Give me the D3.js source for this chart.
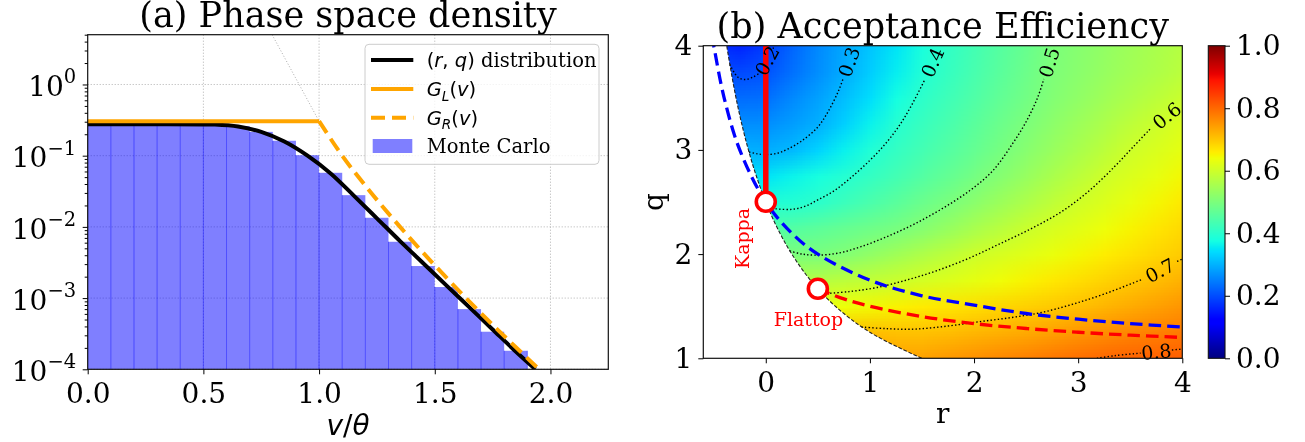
<!DOCTYPE html>
<html><head><meta charset="utf-8">
<script src="https://cdn.jsdelivr.net/npm/d3@7"></script>
<style>
html,body{margin:0;padding:0;background:#fff;}
#wrap{position:relative;width:1305px;height:442px;overflow:hidden;}
canvas,svg{position:absolute;left:0;top:0;}
svg{font-family:"DejaVu Serif",serif;}
</style></head><body>
<div id="wrap"><canvas id="cv" width="1305" height="442"></canvas><svg id="sv" width="1305" height="442"></svg></div>
<script>
// ================= Panel (a) data =================
const histEdges = [0.0,0.1,0.2,0.3,0.4,0.5,0.6,0.7,0.8,0.9,1.0,1.1,1.2,1.3,1.4,1.5,1.6,1.7,1.8,1.9];
const histValues = [0.28,0.28,0.28,0.28,0.28,0.275,0.26,0.216,0.162,0.1016,0.0575,0.0279,0.01343,0.00618,0.00282,0.00143,0.0007,0.000337,0.000182];
const rqV = [0,0.3,0.5,0.55,0.65,0.75,0.85,0.95,1.05,1.15,1.25,1.35,1.45,1.55,1.65,1.75,1.85,1.935];
const rqF = [0.277,0.277,0.275,0.274,0.257,0.216,0.158,0.1,0.0562,0.0275,0.0132,0.00631,0.00309,0.00151,0.000741,0.000363,0.000178,0.0001];
const glV = [0,1.0];
const glF = [0.305,0.305];
const grV = [1.0,1.1,1.215,1.35,1.635,1.951];
const grF = [0.305,0.1,0.033,0.01,0.001,0.0001];
const guideV = [0.797,1.0];
const guideF = [5,0.305];
const xTicksA = [0,0.5,1.0,1.5,2.0];
const yExpA = [-4,-3,-2,-1,0];
const legendNames = ["rq","GL","GR","Monte Carlo"];

// ================= Panel (b) data =================
const gridR = [-0.75,-0.5,-0.25,0,0.25,0.5,0.75,1.0,1.25,1.5,1.75,2.0,2.25,2.5,2.75,3.0,3.25,3.5,3.75,4.0];
const gridQ = [4.0,3.75,3.5,3.25,3.0,2.75,2.5,2.25,2.0,1.75,1.5,1.25,1.0];
const effRows = [
 [0.17,0.17,0.16,0.185,0.225,0.26,0.29,0.319,0.35,0.381,0.409,0.432,0.455,0.477,0.5,0.514,0.529,0.543,0.557,0.571],
 [0.2,0.2,0.198,0.206,0.236,0.265,0.295,0.327,0.358,0.39,0.415,0.437,0.46,0.482,0.503,0.518,0.533,0.548,0.562,0.577],
 [0.235,0.235,0.232,0.235,0.26,0.284,0.312,0.344,0.376,0.405,0.426,0.447,0.469,0.49,0.509,0.526,0.544,0.561,0.579,0.596],
 [0.265,0.265,0.265,0.265,0.28,0.298,0.33,0.363,0.396,0.418,0.439,0.46,0.481,0.502,0.521,0.541,0.56,0.58,0.599,0.617],
 [0.3,0.3,0.3,0.297,0.307,0.334,0.362,0.39,0.413,0.433,0.453,0.473,0.494,0.515,0.536,0.557,0.579,0.6,0.615,0.63],
 [0.343,0.343,0.343,0.349,0.364,0.379,0.395,0.413,0.432,0.452,0.472,0.492,0.513,0.535,0.557,0.578,0.6,0.616,0.631,0.647],
 [0.39,0.39,0.39,0.39,0.393,0.403,0.422,0.441,0.46,0.48,0.498,0.519,0.54,0.561,0.582,0.602,0.617,0.633,0.648,0.663],
 [0.446,0.446,0.446,0.446,0.452,0.463,0.474,0.485,0.496,0.513,0.534,0.555,0.575,0.596,0.611,0.625,0.639,0.652,0.666,0.68],
 [0.5,0.5,0.5,0.5,0.5,0.499,0.509,0.527,0.545,0.563,0.581,0.599,0.611,0.623,0.635,0.647,0.659,0.671,0.683,0.695],
 [0.568,0.568,0.568,0.568,0.568,0.57,0.578,0.587,0.597,0.608,0.619,0.63,0.642,0.653,0.664,0.675,0.687,0.698,0.71,0.723],
 [0.637,0.637,0.637,0.637,0.637,0.637,0.64,0.646,0.654,0.661,0.668,0.675,0.683,0.69,0.697,0.707,0.718,0.729,0.741,0.752],
 [0.71,0.71,0.71,0.71,0.71,0.71,0.71,0.71,0.706,0.706,0.71,0.717,0.724,0.731,0.741,0.751,0.76,0.769,0.775,0.781],
 [0.74,0.74,0.74,0.74,0.74,0.74,0.74,0.74,0.74,0.74,0.749,0.758,0.767,0.776,0.785,0.794,0.802,0.805,0.808,0.811]
];
const boundaryR = [-0.39,-0.375,-0.333,-0.286,-0.231,-0.167,-0.091,0,0.111,0.25,0.429,0.667,1.0,1.5,1.55];
const boundaryQ = [4.1,4.0,3.75,3.5,3.25,3.0,2.75,2.5,2.25,2.0,1.75,1.5,1.25,1.0,0.98];
const blueR = [-0.52,-0.5,-0.4,-0.25,0,0.25,0.5,1.0,1.5,2.0,2.5,3.0,3.5,4.0];
const blueQ = [4.1,4.0,3.5,3.0,2.5,2.2,2.0,1.75,1.6,1.51,1.43,1.375,1.333,1.3];
const flatR = [0.5,0.75,1.0,1.5,2.0,2.5,3.0,3.5,4.0];
const flatQ = [1.667,1.57,1.5,1.4,1.333,1.286,1.25,1.222,1.2];
const kappaR = [0,0];
const kappaQ = [2.5,4.0];
const markerNames = ["Kappa","Flattop"];
const markerR = [0,0.5];
const markerQ = [2.503,1.667];
const markerLabelR = [-0.225,0.41];
const markerLabelQ = [2.15,1.31];
const contourLevels = [0.2,0.3,0.4,0.5,0.6,0.7,0.8];
const contourPts = [
 [[-0.345,3.82],[-0.27,3.70],[-0.2,3.675],[-0.12,3.70],[-0.05,3.745],[0.07,3.97],[0.085,4.02]],
 [[-0.16,2.98],[-0.08,2.962],[0.01,2.955],[0.12,2.97],[0.215,3.01],[0.35,3.09],[0.5,3.22],[0.6,3.37],[0.7,3.57],[0.745,3.69],[0.85,4.0]],
 [[0.06,2.44],[0.093,2.435],[0.256,2.43],[0.38,2.46],[0.5,2.52],[0.66,2.61],[0.825,2.74],[1.0,2.9],[1.15,3.06],[1.28,3.23],[1.39,3.41],[1.53,3.68],[1.67,4.0]],
 [[0.23,2.03],[0.35,2.0],[0.5,1.99],[0.7,2.01],[0.91,2.07],[1.17,2.17],[1.43,2.29],[1.7,2.44],[1.96,2.61],[2.18,2.8],[2.37,3.06],[2.5,3.27],[2.61,3.5],[2.67,3.68],[2.77,4.0]],
 [[0.55,1.62],[0.8,1.64],[1.07,1.68],[1.35,1.75],[1.64,1.84],[1.95,1.96],[2.25,2.10],[2.56,2.25],[2.86,2.42],[3.12,2.62],[3.35,2.84],[3.52,3.02],[3.70,3.21],[4.0,3.45]],
 [[0.92,1.30],[1.15,1.285],[1.43,1.28],[1.75,1.31],[2.04,1.35],[2.35,1.39],[2.65,1.44],[2.95,1.52],[3.26,1.62],[3.62,1.76],[3.95,1.93],[4.02,1.96]],
 [[3.18,1.0],[3.35,1.025],[3.6,1.05],[3.9,1.08],[4.02,1.09]]
];
const contourLabelSeg = [4,9,11,13,12,9,2];
const xTicksB = [0,1,2,3,4];
const yTicksB = [1,2,3,4];
const cbTicks = [0,0.2,0.4,0.6,0.8,1.0];

// ================= setup =================
const svg = d3.select("#sv");
const ctx = document.getElementById("cv").getContext("2d");
const ORANGE = "#ffa500";
const SANS = "DejaVu Sans", SERIF = "DejaVu Serif";

// jet colormap through linear scales
const jR = d3.scaleLinear([0,0.35,0.66,0.89,1],[0,0,1,1,0.5]).clamp(true);
const jG = d3.scaleLinear([0,0.125,0.375,0.64,0.91,1],[0,0,1,1,0,0]).clamp(true);
const jB = d3.scaleLinear([0,0.11,0.34,0.65,1],[0.5,1,1,0,0]).clamp(true);
const jet = v => d3.rgb(Math.round(jR(v)*255), Math.round(jG(v)*255), Math.round(jB(v)*255));

// ================= Panel (a) =================
const xA = d3.scaleLinear([0,2.25],[87.7,608.3]);
const yA = d3.scaleLog([1e-4,5],[369.3,34.7]);
const gA = svg.append("g");
svg.append("clipPath").attr("id","clipA").append("rect")
  .attr("x",xA(0)).attr("y",yA(5)).attr("width",xA(2.25)-xA(0)).attr("height",yA(1e-4)-yA(5));

// grid
const gridA = gA.append("g").attr("stroke","#b0b0b0").attr("stroke-width",1).attr("stroke-dasharray","1,2");
xTicksA.filter(d=>d>0).forEach(d=>gridA.append("line").attr("x1",xA(d)).attr("x2",xA(d)).attr("y1",yA(5)).attr("y2",yA(1e-4)));
yExpA.forEach(e=>gridA.append("line").attr("x1",xA(0)).attr("x2",xA(2.25)).attr("y1",yA(Math.pow(10,e))).attr("y2",yA(Math.pow(10,e))));

// histogram bars
const barsG = gA.append("g").attr("clip-path","url(#clipA)");
histValues.forEach((v,i)=>{
  const x0 = xA(histEdges[i]), x1 = xA(histEdges[i]+0.1);
  barsG.append("rect").attr("x",x0).attr("y",yA(v)).attr("width",x1-x0).attr("height",yA(1e-4)-yA(v))
    .attr("fill","rgba(0,0,255,0.5)");
});
histValues.forEach((v,i)=>{
  const x0 = xA(histEdges[i]);
  barsG.append("line").attr("x1",x0).attr("x2",x0).attr("y1",yA(v)).attr("y2",yA(1e-4))
    .attr("stroke","rgba(0,0,255,0.45)").attr("stroke-width",1);
});
{
  const last = histValues.length-1, xe = xA(histEdges[last]+0.1);
  barsG.append("line").attr("x1",xe).attr("x2",xe).attr("y1",yA(histValues[last])).attr("y2",yA(1e-4))
    .attr("stroke","rgba(0,0,255,0.45)").attr("stroke-width",1);
}

const linesA = gA.append("g").attr("clip-path","url(#clipA)").attr("fill","none");
linesA.append("path").attr("d",d3.line().x(d=>xA(d[0])).y(d=>yA(d[1]))(d3.zip(guideV,guideF))).attr("stroke","#aaa").attr("stroke-width",1).attr("stroke-dasharray","1,2");
linesA.append("path").attr("d",d3.line().x(d=>xA(d[0])).y(d=>yA(d[1])).curve(d3.curveCatmullRom)(d3.zip(rqV,rqF))).attr("stroke","#000").attr("stroke-width",4);
linesA.append("path").attr("d",d3.line().x(d=>xA(d[0])).y(d=>yA(d[1]))(d3.zip(glV,glF))).attr("stroke",ORANGE).attr("stroke-width",4);
linesA.append("path").attr("d",d3.line().x(d=>xA(d[0])).y(d=>yA(d[1])).curve(d3.curveMonotoneX)(d3.zip(grV,grF)))
  .attr("stroke",ORANGE).attr("stroke-width",4).attr("stroke-dasharray","14,7");

// spines
gA.append("rect").attr("x",xA(0)).attr("y",yA(5)).attr("width",xA(2.25)-xA(0)).attr("height",yA(1e-4)-yA(5))
  .attr("fill","none").attr("stroke","#111").attr("stroke-width",1.2);

// x axis ticks
const axXA = gA.append("g").attr("transform",`translate(0,${yA(1e-4)})`)
  .call(d3.axisBottom(xA).tickValues(xTicksA).tickFormat(d3.format(".1f")).tickSize(5).tickPadding(9));
axXA.select(".domain").remove();
axXA.selectAll("text").attr("font-size",28).attr("font-family",SERIF).attr("fill","#000");
// y axis major ticks + minor ticks
const minorA = [];
yExpA.forEach(e=>{ for(let k=2;k<=9;k++){ const v=k*Math.pow(10,e); if(v<=5) minorA.push(v);} });
const axYmin = gA.append("g").attr("transform",`translate(${xA(0)},0)`)
  .call(d3.axisLeft(yA).tickValues(minorA).tickFormat("").tickSize(3));
axYmin.select(".domain").remove();
const axYA = gA.append("g").attr("transform",`translate(${xA(0)},0)`)
  .call(d3.axisLeft(yA).tickValues(yExpA.map(e=>Math.pow(10,e))).tickFormat("").tickSize(5));
axYA.select(".domain").remove();
yExpA.forEach(e=>{
  const t = gA.append("text").attr("x",xA(0)-11.5).attr("y",yA(Math.pow(10,e))+11.7)
    .attr("text-anchor","end").attr("font-size",28).attr("font-family",SERIF);
  t.append("tspan").text("10");
  t.append("tspan").attr("font-size",19.5).attr("dy",-12.7).text(e<0?("\u2212"+(-e)):String(e));
});
// labels
gA.append("text").attr("x",(xA(0)+xA(2.25))/2).attr("y",27).attr("text-anchor","middle")
  .attr("font-size",35).attr("font-family",SERIF).text("(a) Phase space density");
{
  const t = gA.append("text").attr("x",(xA(0)+xA(2.25))/2).attr("y",435).attr("text-anchor","middle")
    .attr("font-size",28).attr("font-family",SANS);
  t.append("tspan").attr("font-style","italic").text("v");
  t.append("tspan").text("/");
  t.append("tspan").attr("font-style","italic").text("\u03b8");
}

// legend
{
  const lg = gA.append("g");
  lg.append("rect").attr("x",365).attr("y",44.3).attr("width",234).attr("height",120).attr("rx",4)
    .attr("fill","rgba(255,255,255,0.8)").attr("stroke","#cccccc").attr("stroke-width",1);
  const rowsY = [60,89,117.7,146];
  lg.append("line").attr("x1",371).attr("x2",413.3).attr("y1",rowsY[0]).attr("y2",rowsY[0]).attr("stroke","#000").attr("stroke-width",4);
  lg.append("line").attr("x1",371).attr("x2",413.3).attr("y1",rowsY[1]).attr("y2",rowsY[1]).attr("stroke",ORANGE).attr("stroke-width",4);
  lg.append("line").attr("x1",371).attr("x2",413.3).attr("y1",rowsY[2]).attr("y2",rowsY[2]).attr("stroke",ORANGE).attr("stroke-width",4).attr("stroke-dasharray","14,7");
  lg.append("rect").attr("x",372.7).attr("y",rowsY[3]-7).attr("width",39.6).attr("height",14).attr("fill","rgba(0,0,255,0.5)");
  const tx = 426.7, fs = 19.5;
  let t = lg.append("text").attr("x",tx).attr("y",rowsY[0]+7).attr("font-size",fs).attr("font-family",SANS);
  t.append("tspan").text("(");
  t.append("tspan").attr("font-style","italic").text("r");
  t.append("tspan").text(", ");
  t.append("tspan").attr("font-style","italic").text("q");
  t.append("tspan").text(")");
  t.append("tspan").attr("font-family",SERIF).text(" distribution");
  ["L","R"].forEach((s,k)=>{
    const tt = lg.append("text").attr("x",tx).attr("y",rowsY[1+k]+7).attr("font-size",fs).attr("font-family",SANS);
    tt.append("tspan").attr("font-style","italic").text("G");
    tt.append("tspan").attr("font-style","italic").attr("font-size",fs*0.7).attr("dy",4.5).text(s);
    tt.append("tspan").attr("dy",-4.5).text("(");
    tt.append("tspan").attr("font-style","italic").text("v");
    tt.append("tspan").text(")");
  });
  lg.append("text").attr("x",tx).attr("y",rowsY[3]+7).attr("font-size",fs).attr("font-family",SERIF).text(legendNames[3]);
}

// ================= Panel (b) =================
const xB = d3.scaleLinear([-0.6,4],[703.3,1182.3]);
const yB = d3.scaleLinear([1,4],[358.3,45.7]);
const cbS = d3.scaleLinear([0,1],[358.3,45.7]);
const boundaryPts = d3.zip(boundaryR,boundaryQ);

// heatmap on canvas
{
  const nx = gridR.length, ny = gridQ.length;
  const small = document.createElement("canvas"); small.width = nx; small.height = ny;
  const sctx = small.getContext("2d");
  const img = sctx.createImageData(nx,ny);
  for(let i=0;i<ny;i++) for(let j=0;j<nx;j++){
    const c = jet(effRows[i][j]); const k = 4*(i*nx+j);
    img.data[k]=c.r; img.data[k+1]=c.g; img.data[k+2]=c.b; img.data[k+3]=255;
  }
  sctx.putImageData(img,0,0);
  const cw = xB(gridR[1])-xB(gridR[0]);
  const chh = yB(gridQ[1])-yB(gridQ[0]);
  ctx.save();
  ctx.beginPath(); ctx.rect(xB(-0.6),yB(4),xB(4)-xB(-0.6),yB(1)-yB(4)); ctx.clip();
  ctx.beginPath();
  d3.line().x(d=>xB(d[0])).y(d=>yB(d[1])).curve(d3.curveCatmullRom).context(ctx)(boundaryPts);
  ctx.lineTo(xB(4.3),yB(0.9)); ctx.lineTo(xB(4.3),yB(4.3)); ctx.lineTo(xB(boundaryR[0]),yB(4.3)); ctx.closePath();
  ctx.clip();
  ctx.imageSmoothingEnabled = true;
  ctx.drawImage(small, xB(gridR[0])-cw/2, yB(gridQ[0])-chh/2, cw*nx, chh*ny);
  ctx.restore();
  // colorbar
  const cx0 = 1208.3, cx1 = 1225;
  for(let py=Math.floor(cbS(1)); py<Math.ceil(cbS(0)); py++){
    const top = Math.max(py,cbS(1)), bot = Math.min(py+1,cbS(0));
    ctx.fillStyle = jet(cbS.invert((top+bot)/2)).toString();
    ctx.fillRect(cx0, top, cx1-cx0, bot-top);
  }
}

const gB = svg.append("g");
svg.append("clipPath").attr("id","clipB").append("rect")
  .attr("x",xB(-0.6)).attr("y",yB(4)).attr("width",xB(4)-xB(-0.6)).attr("height",yB(1)-yB(4));
const lineB = d3.line().x(d=>xB(d[0])).y(d=>yB(d[1])).curve(d3.curveCatmullRom);
const plotB = gB.append("g").attr("clip-path","url(#clipB)").attr("fill","none");

// contour lines (dotted) with label gaps
const labelInfo = [];
contourPts.forEach((pts,i)=>{
  const s = contourLabelSeg[i];
  [pts.slice(0,s+1), pts.slice(s+1)].forEach(p=>{
    if(p.length>1) plotB.append("path").attr("d",lineB(p)).attr("stroke","#000").attr("stroke-width",1.4).attr("stroke-dasharray","1.4,2.2");
  });
  const p0 = pts[s], p1 = pts[s+1];
  const x0=xB(p0[0]), y0=yB(p0[1]), x1=xB(p1[0]), y1=yB(p1[1]);
  let ang = Math.atan2(y1-y0,x1-x0)*180/Math.PI;
  if(ang>90) ang-=180; if(ang<-90) ang+=180;
  labelInfo.push({x:(x0+x1)/2, y:(y0+y1)/2, ang, txt:d3.format(".1f")(contourLevels[i])});
});
plotB.append("path").attr("d",lineB(boundaryPts)).attr("stroke","#222").attr("stroke-width",1.1).attr("stroke-dasharray","3.7,1.8");
plotB.append("path").attr("d",lineB(d3.zip(blueR,blueQ))).attr("stroke","#0000ff").attr("stroke-width",3.3).attr("stroke-dasharray","12.5,6");
plotB.append("path").attr("d",lineB(d3.zip(flatR,flatQ))).attr("stroke","#ff0000").attr("stroke-width",3.3).attr("stroke-dasharray","12.5,6");
plotB.append("path").attr("d",d3.line().x(d=>xB(d[0])).y(d=>yB(d[1]))(d3.zip(kappaR,kappaQ))).attr("stroke","#ff0000").attr("stroke-width",5.5);
labelInfo.forEach(L=>{
  gB.append("text").attr("transform",`translate(${L.x},${L.y}) rotate(${L.ang})`)
    .attr("text-anchor","middle").attr("dominant-baseline","central").attr("font-size",19).attr("font-family",SERIF).attr("fill","#000").text(L.txt);
});
markerNames.forEach((n,i)=>{
  gB.append("circle").attr("cx",xB(markerR[i])).attr("cy",yB(markerQ[i])).attr("r",9.5)
    .attr("fill","#fff").attr("stroke","#ff0000").attr("stroke-width",3.6);
});
gB.append("text").attr("transform",`translate(${xB(markerLabelR[0])},${yB(markerLabelQ[0])}) rotate(-90)`)
  .attr("text-anchor","middle").attr("dominant-baseline","central").attr("font-size",19).attr("font-family",SERIF).attr("fill","#ff0000").text(markerNames[0]);
gB.append("text").attr("x",xB(markerLabelR[1])).attr("y",yB(markerLabelQ[1]))
  .attr("text-anchor","middle").attr("font-size",19).attr("font-family",SERIF).attr("fill","#ff0000").text(markerNames[1]);

gB.append("rect").attr("x",xB(-0.6)).attr("y",yB(4)).attr("width",xB(4)-xB(-0.6)).attr("height",yB(1)-yB(4))
  .attr("fill","none").attr("stroke","#111").attr("stroke-width",1.2);
const axXB = gB.append("g").attr("transform",`translate(0,${yB(1)})`)
  .call(d3.axisBottom(xB).tickValues(xTicksB).tickFormat(d3.format("d")).tickSize(5).tickPadding(9));
axXB.select(".domain").remove();
axXB.selectAll("text").attr("font-size",28).attr("font-family",SERIF);
const axYB = gB.append("g").attr("transform",`translate(${xB(-0.6)},0)`)
  .call(d3.axisLeft(yB).tickValues(yTicksB).tickFormat(d3.format("d")).tickSize(5).tickPadding(6));
axYB.select(".domain").remove();
axYB.selectAll("text").attr("font-size",28).attr("font-family",SERIF);
gB.append("text").attr("x",(xB(-0.6)+xB(4))/2).attr("y",38).attr("text-anchor","middle")
  .attr("font-size",35).attr("font-family",SERIF).text("(b) Acceptance Efficiency");
gB.append("text").attr("x",(xB(-0.6)+xB(4))/2).attr("y",423).attr("text-anchor","middle")
  .attr("font-size",28).attr("font-family",SERIF).text("r");
gB.append("text").attr("transform",`translate(663,${(yB(1)+yB(4))/2}) rotate(-90)`).attr("text-anchor","middle")
  .attr("font-size",28).attr("font-family",SERIF).text("q");

gB.append("rect").attr("x",1208.3).attr("y",cbS(1)).attr("width",1225-1208.3).attr("height",cbS(0)-cbS(1))
  .attr("fill","none").attr("stroke","#111").attr("stroke-width",1.1);
const axCB = gB.append("g").attr("transform","translate(1225,0)")
  .call(d3.axisRight(cbS).tickValues(cbTicks).tickFormat(d3.format(".1f")).tickSize(5).tickPadding(6));
axCB.select(".domain").remove();
axCB.selectAll("text").attr("font-size",28).attr("font-family",SERIF);
</script>
</body></html>
